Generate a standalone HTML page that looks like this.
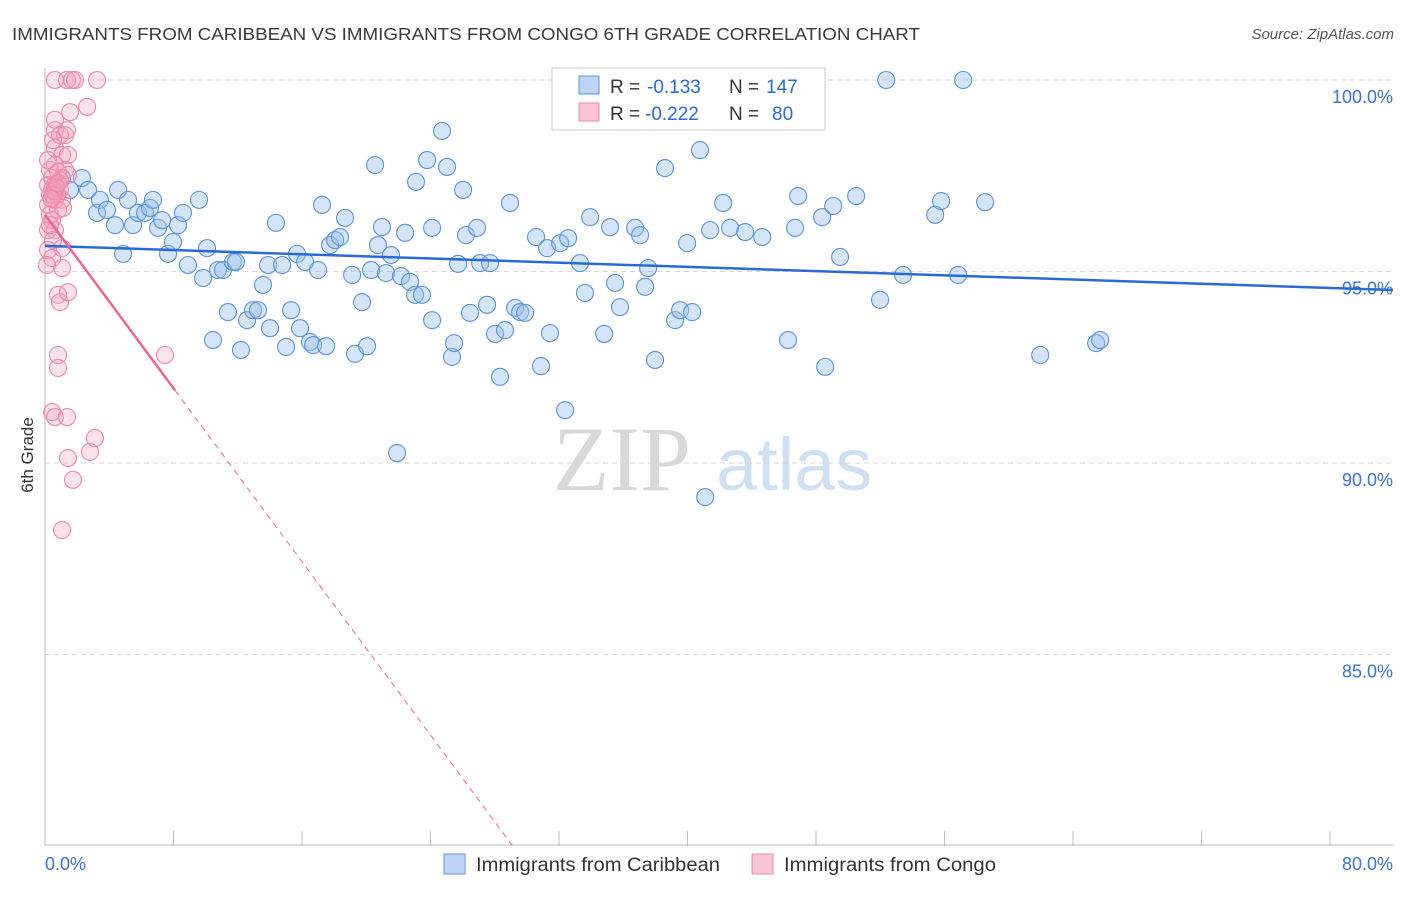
<!DOCTYPE html>
<html><head><meta charset="utf-8"><style>
body{margin:0;background:#fff;font-family:"Liberation Sans",sans-serif;}
</style></head><body>
<svg width="1406" height="892" xmlns="http://www.w3.org/2000/svg" font-family="Liberation Sans, sans-serif">
<text x="12" y="40" font-size="17.5" fill="#3a3a3a" textLength="908" lengthAdjust="spacingAndGlyphs">IMMIGRANTS FROM CARIBBEAN VS IMMIGRANTS FROM CONGO 6TH GRADE CORRELATION CHART</text>
<text x="1394" y="39" font-size="15" fill="#555" text-anchor="end" font-style="italic">Source: ZipAtlas.com</text>
<g><text x="553" y="490" font-size="92" fill="#d8d8d8" font-family="Liberation Serif, serif">ZIP</text><text x="716" y="490" font-size="74" fill="#cfe0f3">atlas</text></g>
<g id="grid"></g><g id="axes"></g><g id="marks"></g>
<g>
<rect x="552" y="68" width="273" height="62" fill="#fff" stroke="#ccc"/>
<rect x="579" y="76" width="20" height="18" fill="#bcd5f5" stroke="#5b93d8"/>
<rect x="579" y="103" width="20" height="18" fill="#f9c4d4" stroke="#ec89a8"/>
<text x="610" y="93" font-size="19" fill="#333">R =</text>
<text x="647" y="93" font-size="19" fill="#2a6ad4">-0.133</text>
<text x="729" y="93" font-size="19" fill="#333">N =</text>
<text x="766" y="93" font-size="19" fill="#2a6ad4">147</text>
<text x="610" y="120" font-size="19" fill="#333">R =</text>
<text x="645" y="120" font-size="19" fill="#2a6ad4">-0.222</text>
<text x="729" y="120" font-size="19" fill="#333">N =</text>
<text x="772" y="120" font-size="19" fill="#2a6ad4">80</text>
</g>
<text transform="translate(33,455) rotate(-90)" font-size="17" fill="#333" text-anchor="middle">6th Grade</text>
<text x="45" y="870" font-size="18" fill="#3b73d0">0.0%</text>
<text x="1393" y="870" font-size="18" fill="#3b73d0" text-anchor="end">80.0%</text>
<g>
<rect x="444" y="854" width="21" height="20" fill="#bcd5f5" stroke="#5b93d8"/>
<text x="476" y="871" font-size="19" fill="#333" textLength="244" lengthAdjust="spacingAndGlyphs">Immigrants from Caribbean</text>
<rect x="752" y="854" width="21" height="20" fill="#f9c4d4" stroke="#ec89a8"/>
<text x="784" y="871" font-size="19" fill="#333" textLength="212" lengthAdjust="spacingAndGlyphs">Immigrants from Congo</text>
</g>
</svg>
<script>
const yTicks=[100,95,90,85];
const yTickLabels=["100.0%","95.0%","90.0%","85.0%"];
const xTicks=[0,8,16,24,32,40,48,56,64,72,80];
const blueX=[0.62,1.06,1.56,2.30,2.68,3.24,3.42,3.86,4.36,4.55,4.86,5.17,5.48,5.79,6.23,6.54,6.72,7.04,7.29,7.66,7.97,8.28,8.59,8.90,9.59,9.84,10.09,10.46,10.77,11.08,11.39,11.71,11.89,12.20,12.58,12.95,13.26,13.57,13.89,14.01,14.38,14.76,15.01,15.32,15.69,15.88,16.19,16.50,16.69,17.00,17.25,17.50,17.75,18.06,18.37,18.68,19.12,19.30,19.74,20.05,20.30,20.55,20.73,20.98,21.23,21.54,21.92,22.17,22.42,22.73,23.04,23.10,23.47,23.79,24.10,24.10,24.72,25.03,25.34,25.47,25.72,26.03,26.21,26.46,26.90,27.09,27.52,27.71,28.02,28.33,28.64,28.95,29.27,29.58,29.89,30.57,30.88,31.26,31.44,32.07,32.38,32.57,33.31,33.62,33.94,34.81,35.18,35.49,35.80,36.74,37.05,37.36,37.55,37.98,38.60,39.23,39.54,39.98,40.29,40.78,41.10,41.41,42.22,42.65,43.59,44.65,46.26,46.70,46.89,48.38,48.57,49.07,49.50,50.50,51.99,52.37,53.42,55.42,55.79,56.85,57.16,58.53,61.96,65.44,65.69];
const blueY=[97.26,97.44,97.13,97.44,97.13,96.53,96.87,96.61,96.21,97.13,95.46,96.87,96.21,96.53,96.53,96.66,96.87,96.14,96.34,95.46,95.77,96.21,96.53,95.17,96.87,94.83,95.61,93.21,95.04,95.04,93.94,95.25,95.25,92.95,93.73,93.99,93.99,94.65,95.17,93.52,96.27,95.17,93.03,93.99,95.46,93.52,95.25,93.16,93.08,95.04,96.74,93.05,95.69,95.82,95.90,96.40,94.91,92.85,94.20,93.05,95.04,97.78,95.69,96.16,94.96,95.43,90.26,94.88,96.01,94.73,94.39,97.34,94.39,97.91,93.73,96.14,98.67,97.73,92.77,93.13,95.20,97.13,95.95,93.92,96.14,95.22,94.13,95.22,93.37,92.25,93.47,96.79,94.05,93.94,93.92,95.90,92.53,95.61,93.39,95.74,91.38,95.87,95.22,94.44,96.42,93.37,96.16,94.70,94.07,96.14,95.95,94.60,95.09,92.69,97.70,93.73,93.99,95.74,93.94,98.17,89.11,96.08,96.79,96.14,96.03,95.90,93.21,96.14,96.97,96.42,92.51,96.71,95.38,96.97,94.26,100,94.91,96.48,96.84,94.91,100,96.81,92.82,93.13,93.21];
const pinkX=[0.62,1.37,1.68,1.87,3.24,2.62,1.56,0.62,0.62,0.93,1.25,1.37,0.62,1.06,1.43,0.62,1.25,1.43,0.44,0.62,0.93,0.31,0.62,1.06,0.19,0.81,0.44,0.19,0.62,1.06,0.19,0.44,1.06,0.81,0.93,1.43,0.81,0.81,0.44,0.62,1.37,1.43,3.11,2.80,1.74,1.06,7.47,0.19,0.44,0.75,0.31,0.50,0.12,0.93,0.31,0.81,0.19,0.50,1.12,0.31,0.6,0.7,0.5,0.8,0.4];
const pinkY=[100,100,100,100,100,99.30,99.16,98.96,98.69,98.56,98.56,98.69,98.22,98.04,98.04,97.78,97.65,97.52,97.44,97.26,97.13,97.00,96.87,96.87,96.74,96.61,96.34,96.08,96.08,95.61,95.56,95.35,95.09,94.39,94.20,94.46,92.82,92.48,91.33,91.20,91.20,90.13,90.65,90.29,89.56,88.25,92.82,97.26,97.13,97.00,96.48,95.82,95.17,97.39,97.65,97.60,97.91,98.43,96.66,96.21,97.1,97.2,97.0,97.3,96.9];
const blueTrend=[95.67,94.57];
const pinkTrend=[96.48,-0.566];
const pinkSolidEnd=8.1, pinkDashEnd=29.1;
const NS="http://www.w3.org/2000/svg";
const X0=45,X1=1330,Y0=846,Y1=80;
function sx(v){return X0+(v/80)*(X1-X0);}
function sy(v){return Y0-((v-80)/20)*(Y0-Y1);}
function mk(tag,attrs,parent){const e=document.createElementNS(NS,tag);for(const k in attrs)e.setAttribute(k,attrs[k]);document.getElementById(parent).appendChild(e);return e;}
yTicks.forEach((t,i)=>{
 const g=mk('line',{x1:X0,x2:1393,y1:sy(t),y2:sy(t),stroke:'#d6d6d6','stroke-dasharray':'5,4'},'grid');
 
 
 const l=mk('text',{x:1393,y:sy(t)+23,'font-size':18,fill:'#3b73d0','text-anchor':'end'},'grid');
 l.textContent=yTickLabels[i];
 
 
});
const ax=mk('line',{x1:X0,x2:1393,y1:Y0-1,y2:Y0-1,stroke:'#bbb'},'axes');


const ay=mk('line',{x1:X0,x2:X0,y1:68,y2:Y0,stroke:'#bbb'},'axes');


xTicks.forEach(t=>{
 const tk=mk('line',{x1:sx(t),x2:sx(t),y1:Y0-15,y2:Y0,stroke:'#bbb'},'axes');
 
 
});
blueX.forEach((v,i)=>{
 const c=mk('circle',{cx:sx(v),cy:sy(blueY[i]),r:8.5,fill:'rgba(150,190,240,0.4)',stroke:'#5b93d8','stroke-width':1.1},'marks');
 
 
});
pinkX.forEach((v,i)=>{
 const c=mk('circle',{cx:sx(v),cy:sy(pinkY[i]),r:8.5,fill:'rgba(245,160,190,0.3)',stroke:'#ec89a8','stroke-width':1.1},'marks');
 
 
});
const bt=mk('line',{x1:sx(0),y1:sy(blueTrend[0]),x2:1393,y2:sy(blueTrend[0]+(blueTrend[1]-blueTrend[0])*((1393-X0)/(X1-X0))),stroke:'#2a6ad4','stroke-width':2.5},'marks');


const pf=x=>pinkTrend[0]+pinkTrend[1]*x;
const ps=mk('line',{x1:sx(0),y1:sy(pf(0)),x2:sx(pinkSolidEnd),y2:sy(pf(pinkSolidEnd)),stroke:'#e8668f','stroke-width':2.5},'marks');


const pd=mk('line',{x1:sx(pinkSolidEnd),y1:sy(pf(pinkSolidEnd)),x2:sx(pinkDashEnd),y2:sy(pf(pinkDashEnd)),stroke:'#e8668f','stroke-width':1,'stroke-dasharray':'6,5'},'marks');


</script>
</body></html>
